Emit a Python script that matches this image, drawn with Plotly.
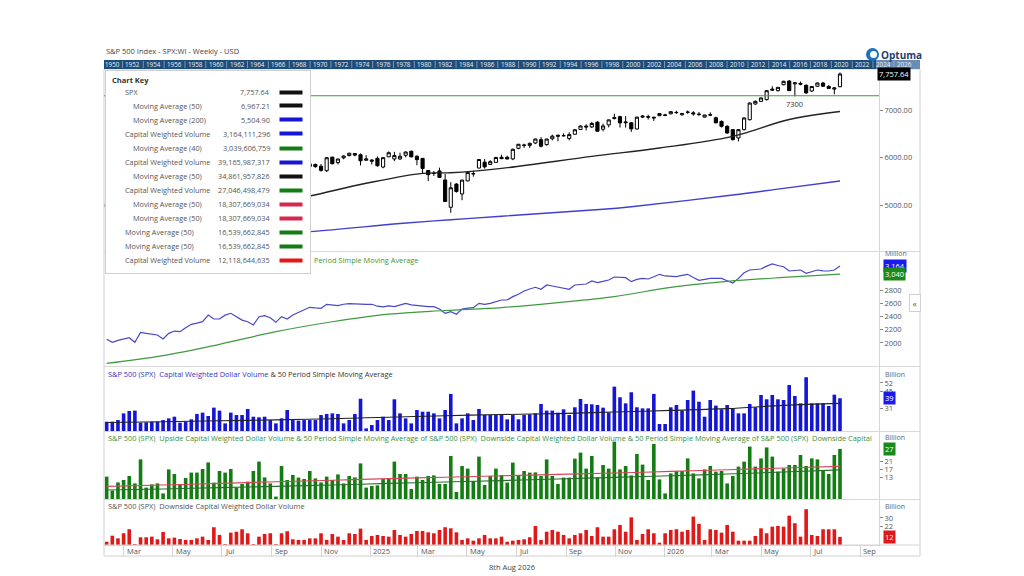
"""
plot.py

S&P 500 weekly chart with capital weighted volume panels (Optuma style)
"""
import pandas as pd
import plotly.graph_objects as go
from plotly.subplots import make_subplots

# ---------------- data ----------------
week_end = pd.date_range("2024-02-09", "2026-08-07", freq="W-FRI")

spx_open = [
    4958, 5026, 4995, 5093, 5131, 5111, 5123, 5219, 5257, 5211,
    5150, 4988, 5116, 5142, 5221, 5305, 5316, 5283, 5341, 5432,
    5459, 5471, 5572, 5615, 5565, 5476, 5151, 5350, 5556, 5630,
    5624, 5442, 5615, 5703, 5737, 5737, 5810, 5855, 5817, 5723,
    6008, 5893, 5992, 6040, 6083, 6058, 5942, 5920, 5982, 5800,
    6015, 5969, 5970, 6046, 6131, 6027, 5982, 5725, 5663, 5718,
    5527, 4953, 5441, 5232, 5508, 5655, 5778, 5902, 5854, 5897,
    6004, 6005, 5970, 6193, 6255, 6255, 6305, 6375, 6271, 6395,
    6445, 6457, 6401, 6489, 6590, 6661, 6643, 6744, 6595, 6686,
    6820, 6860, 6750, 6730, 6600, 6850, 6860, 6830, 6880, 6895,
    6920, 6950, 6900, 6950, 6940, 6915, 6850, 6900, 6835, 6760,
    6656, 6586, 6411, 6586, 6796, 7126, 7182, 7218, 7440, 7407,
    7533, 7610, 7550, 7560, 7520, 7400, 7500, 7568, 7498, 7440,
    7490,
]
spx_high = [
    5030, 5048, 5111, 5140, 5189, 5179, 5261, 5265, 5264, 5263,
    5168, 5114, 5146, 5239, 5325, 5341, 5320, 5376, 5447, 5505,
    5524, 5570, 5655, 5670, 5585, 5566, 5358, 5563, 5642, 5651,
    5625, 5636, 5733, 5767, 5765, 5822, 5878, 5870, 5863, 6012,
    6017, 5972, 6044, 6099, 6085, 6085, 6050, 5966, 6022, 6010,
    6128, 6120, 6101, 6128, 6147, 6043, 5986, 5733, 5715, 5786,
    5655, 5481, 5459, 5528, 5700, 5720, 5958, 5968, 5944, 6016,
    6059, 6039, 6187, 6284, 6290, 6316, 6395, 6428, 6395, 6481,
    6478, 6509, 6532, 6600, 6671, 6699, 6750, 6764, 6715, 6800,
    6920, 6880, 6870, 6745, 6860, 6895, 6900, 6860, 6935, 6920,
    6975, 6985, 6940, 6990, 6975, 6960, 6900, 6950, 6860, 6780,
    6680, 6600, 6600, 6850, 7160, 7200, 7265, 7420, 7500, 7480,
    7615, 7630, 7590, 7600, 7540, 7505, 7580, 7590, 7520, 7480,
    7790,
]
spx_low = [
    4940, 4920, 4946, 5056, 5114, 5104, 5111, 5203, 5146, 5108,
    4953, 4985, 5011, 5127, 5212, 5257, 5191, 5234, 5325, 5421,
    5433, 5445, 5565, 5497, 5390, 5305, 5120, 5330, 5550, 5560,
    5402, 5406, 5585, 5690, 5674, 5696, 5805, 5784, 5702, 5696,
    5853, 5854, 5963, 6024, 6024, 5833, 5932, 5853, 5809, 5773,
    6008, 5923, 5950, 6004, 6008, 5837, 5667, 5505, 5610, 5572,
    5069, 4835, 5262, 5101, 5498, 5597, 5773, 5768, 5843, 5896,
    5964, 5964, 5944, 6174, 6201, 6201, 6282, 6212, 6250, 6360,
    6343, 6445, 6360, 6485, 6580, 6570, 6620, 6550, 6550, 6634,
    6800, 6631, 6630, 6540, 6590, 6830, 6800, 6770, 6870, 6870,
    6910, 6920, 6880, 6920, 6880, 6870, 6840, 6870, 6720, 6630,
    6500, 6360, 6340, 6570, 6780, 7110, 7170, 7200, 7400, 7390,
    7520, 7400, 7290, 7520, 7340, 7380, 7490, 7490, 7440, 7330,
    7480,
]
spx_close = [
    5027, 5005, 5089, 5137, 5124, 5117, 5234, 5254, 5204, 5123,
    4967, 5100, 5128, 5223, 5303, 5305, 5278, 5347, 5432, 5465,
    5460, 5567, 5615, 5505, 5459, 5346, 5344, 5554, 5634, 5648,
    5408, 5626, 5703, 5738, 5751, 5815, 5865, 5808, 5729, 5995,
    5870, 5969, 6032, 6090, 6051, 5931, 5970, 5942, 5827, 5997,
    6101, 6041, 6026, 6115, 6013, 5955, 5770, 5639, 5667, 5581,
    5074, 5363, 5283, 5525, 5687, 5660, 5958, 5803, 5912, 6000,
    5977, 5968, 6173, 6279, 6260, 6297, 6389, 6238, 6389, 6450,
    6467, 6460, 6482, 6584, 6664, 6644, 6716, 6553, 6664, 6792,
    6840, 6729, 6734, 6603, 6849, 6870, 6850, 6845, 6925, 6890,
    6965, 6945, 6925, 6955, 6920, 6905, 6895, 6895, 6730, 6656,
    6516, 6375, 6586, 6832, 7147, 7182, 7253, 7407, 7420, 7477,
    7604, 7407, 7570, 7545, 7360, 7495, 7568, 7500, 7455, 7465,
    7757.64,
]

# moving averages at a few bars (bar index -> value)
spx_ma50_idx = [0, 12, 24, 36, 46, 56, 61, 70, 86, 98, 111, 121, 130]
spx_ma50_val = [4420, 4640, 4900, 5189, 5457, 5667, 5680, 5772, 6025, 6200, 6446, 6800, 6967.21]
spx_ma200_idx = [0, 20, 36, 52, 61, 70, 88, 93, 111, 120, 130]
spx_ma200_val = [4200, 4330, 4440, 4610, 4690, 4765, 4910, 4965, 5210, 5351, 5504.90]
support_level = 7300

# capital weighted volume (millions)
cwv = [
    2056, 2010, 2040, 2065, 2080, 2010, 2160, 2145, 2135, 2120,
    2060, 2145, 2180, 2170, 2230, 2282, 2300, 2322, 2422, 2362,
    2362, 2420, 2448, 2397, 2345, 2320, 2272, 2397, 2412, 2382,
    2312, 2397, 2362, 2422, 2463, 2500, 2539, 2530, 2524, 2584,
    2575, 2564, 2585, 2594, 2590, 2584, 2584, 2584, 2555, 2544,
    2559, 2549, 2575, 2599, 2575, 2564, 2554, 2550, 2549, 2513,
    2448, 2473, 2433, 2513, 2525, 2534, 2599, 2584, 2599, 2620,
    2649, 2649, 2700, 2735, 2785, 2815, 2841, 2810, 2876, 2860,
    2841, 2825, 2810, 2876, 2885, 2891, 2936, 2911, 2930, 2951,
    2996, 2990, 2986, 2926, 2960, 2976, 2966, 3000, 3037, 3012,
    3005, 3002, 3020, 3037, 2990, 2946, 2960, 2976, 2976, 2976,
    2940, 2906, 2976, 3060, 3102, 3110, 3117, 3160, 3193, 3170,
    3152, 3087, 3095, 3102, 3052, 3080, 3102, 3090, 3087, 3102,
    3164,
]
cwv_ma40_idx = [0, 10, 20, 30, 40, 50, 60, 70, 80, 90, 100, 110, 120, 130]
cwv_ma40_val = [1693, 1810, 1980, 2170, 2320, 2435, 2490, 2535, 2610, 2700, 2840, 2930, 2990, 3039.6]

# capital weighted dollar volume (billions)
dollar_vol = [
    19.5, 19.5, 20.9, 26.5, 28.5, 28.8, 18.7, 19.0, 19.5, 19.5,
    20.9, 22.3, 23.7, 18.7, 19.5, 21.5, 26.0, 27.1, 24.3, 31.3,
    28.8, 18.1, 27.1, 25.1, 25.1, 30.2, 23.7, 23.2, 23.7, 20.9,
    18.1, 22.3, 29.3, 20.9, 20.4, 20.9, 20.9, 20.9, 25.1, 26.0,
    26.5, 26.0, 18.1, 20.9, 26.0, 38.8, 13.9, 16.7, 20.9, 23.7,
    20.9, 38.3, 26.5, 22.3, 18.1, 29.3, 27.9, 27.9, 26.5, 22.3,
    29.3, 42.8, 18.1, 22.3, 26.5, 20.9, 30.2, 25.1, 25.1, 25.1,
    25.1, 21.5, 25.1, 21.5, 25.1, 25.7, 26.5, 34.4, 28.8, 28.8,
    27.1, 29.9, 25.1, 31.6, 38.6, 34.4, 34.1, 33.5, 31.3, 27.1,
    48.9, 40.0, 34.9, 44.2, 31.6, 30.7, 30.7, 42.8, 17.6, 17.6,
    31.6, 33.5, 28.8, 37.7, 45.6, 36.3, 23.7, 37.7, 33.0, 29.9,
    33.5, 30.7, 26.5, 26.5, 34.4, 31.6, 41.9, 38.3, 41.9, 38.3,
    37.7, 50.3, 41.1, 34.9, 56.8, 34.9, 34.9, 34.9, 32.7, 42.2,
    39.17,
]
dollar_ma50_idx = [0, 10, 20, 30, 40, 50, 60, 70, 80, 90, 100, 110, 120, 130]
dollar_ma50_val = [18.8, 19.5, 20.3, 21.0, 22.0, 23.3, 24.5, 25.5, 26.3, 27.6, 29.0, 30.5, 33.2, 34.86]

up_vol = [
    13.2, 6.2, 10.3, 11.5, 13.5, 9.8, 21.8, 7.7, 9.3, 9.8,
    4.8, 16.8, 14.5, 9.5, 12.5, 15.2, 15.2, 17.0, 20.3, 10.2,
    16.0, 15.2, 17.0, 7.7, 9.5, 10.7, 16.0, 20.7, 12.8, 9.8,
    3.2, 18.5, 11.5, 14.0, 12.7, 12.0, 16.0, 12.3, 10.3, 13.2,
    11.5, 14.3, 9.8, 13.5, 12.8, 19.8, 7.7, 8.5, 8.8, 12.0,
    12.3, 20.7, 14.5, 14.5, 7.0, 13.2, 11.5, 13.5, 13.8, 9.5,
    9.5, 23.5, 5.5, 18.5, 17.2, 11.0, 23.2, 9.0, 13.5, 17.2,
    14.0, 10.2, 20.2, 13.5, 16.0, 15.2, 15.3, 13.5, 21.8, 13.5,
    9.5, 12.7, 12.7, 22.2, 25.2, 17.2, 23.5, 12.8, 19.0, 17.2,
    30.7, 16.8, 18.5, 13.8, 24.5, 19.2, 11.5, 29.5, 11.8, 4.8,
    14.8, 16.0, 16.0, 22.3, 14.8, 12.3, 16.8, 18.5, 15.7, 16.0,
    9.8, 13.5, 18.2, 20.7, 28.2, 18.2, 22.3, 27.8, 23.2, 15.7,
    17.3, 19.0, 19.0, 24.0, 18.5, 22.3, 21.8, 16.5, 14.5, 24.0,
    27.05,
]
up_ma50_idx = [0, 10, 20, 30, 40, 50, 60, 70, 80, 90, 100, 110, 120, 130]
up_ma50_val = [8.3, 9.0, 9.8, 10.6, 11.4, 12.2, 12.9, 13.6, 14.3, 15.0, 15.8, 16.6, 17.5, 18.31]
down_ma50_idx = [0, 10, 20, 30, 40, 50, 60, 70, 80, 90, 100, 110, 120, 130]
down_ma50_val = [6.5, 7.0, 7.7, 8.3, 9.0, 9.8, 10.5, 11.2, 12.0, 12.8, 13.6, 14.5, 15.5, 16.54]

down_vol = [
    7.5, 13.2, 10.7, 15.5, 19.3, 5.3, 11.7, 11.7, 12.3, 9.8,
    16.7, 10.7, 11.4, 10.1, 9.2, 9.2, 10.7, 12.3, 9.2, 21.2,
    13.9, 5.3, 16.1, 17.0, 19.3, 15.5, 5.3, 12.3, 14.8, 15.5,
    5.3, 15.5, 17.4, 9.8, 9.2, 9.2, 10.7, 10.7, 15.5, 9.2,
    14.8, 12.3, 9.2, 15.5, 14.8, 19.9, 9.2, 12.9, 13.9, 12.9,
    12.3, 18.6, 13.9, 12.3, 14.8, 17.7, 17.7, 16.4, 15.5, 18.6,
    21.2, 20.2, 16.4, 9.2, 10.7, 8.5, 10.7, 13.9, 10.7, 10.7,
    12.3, 7.5, 8.5, 9.2, 9.8, 11.7, 22.4, 9.2, 17.0, 18.6,
    17.0, 13.9, 10.7, 13.9, 15.5, 18.6, 12.9, 21.2, 12.3, 12.3,
    19.3, 23.4, 17.0, 30.6, 9.2, 14.8, 19.3, 15.5, 6.6, 15.5,
    18.6, 19.3, 17.0, 18.6, 31.3, 24.4, 9.2, 19.3, 18.6, 16.1,
    23.4, 17.0, 8.5, 8.5, 8.5, 12.9, 20.2, 15.5, 21.8, 22.4,
    21.8, 32.2, 25.0, 12.3, 38.3, 13.9, 12.9, 19.3, 19.3, 19.3,
    12.12,
]

# chart key
key_labels = ["SPX", "Moving Average (50)", "Moving Average (200)", "Capital Weighted Volume",
              "Moving Average (40)", "Capital Weighted Volume", "Moving Average (50)",
              "Capital Weighted Volume", "Moving Average (50)", "Moving Average (50)",
              "Moving Average (50)", "Moving Average (50)", "Capital Weighted Volume"]
key_values = ["7,757.64", "6,967.21", "5,504.90", "3,164,111,296", "3,039,606,759",
              "39,165,987,317", "34,861,957,826", "27,046,498,479", "18,307,669,034",
              "18,307,669,034", "16,539,662,845", "16,539,662,845", "12,118,644,635"]
key_indent = [0, 1, 1, 0, 1, 0, 1, 0, 1, 1, 0, 0, 0]

month_ticks = pd.date_range("2024-03-01", "2026-09-01", freq="2MS")
month_labels = ["Mar", "May", "Jul", "Sep", "Nov", "2025", "Mar", "May", "Jul", "Sep",
                "Nov", "2026", "Mar", "May", "Jul", "Sep"]
strip_years = list(range(1950, 2027, 2))

# ---------------- styles ----------------
BLACK = "#111111"
BLUE = "#1515d6"
GREEN = "#137d13"
CRIMSON = "#d8274f"
RED = "#e01818"
FONT = "Open Sans"
GREY = "#555555"

# page offset of the figure inside the browser window (body margin)
OFF = 8
# plot area in window pixels
L, R, T, B = 104, 879, 69, 545


def px(x):
    return (x - L) / (R - L)


def py(y):
    return (B - y) / (B - T)


def at(idx):
    return [week_end[i] for i in idx]


fig = make_subplots(rows=5, cols=1, shared_xaxes=True, vertical_spacing=0)

# price panel
fig.add_trace(go.Candlestick(
    x=week_end, open=spx_open, high=spx_high, low=spx_low, close=spx_close,
    increasing=dict(line=dict(color="#000000", width=1), fillcolor="#ffffff"),
    decreasing=dict(line=dict(color="#000000", width=1), fillcolor="#000000"),
    whiskerwidth=0, showlegend=False, hoverinfo="skip"), row=1, col=1)
fig.add_trace(go.Scatter(x=at(spx_ma50_idx), y=spx_ma50_val, mode="lines",
                         line=dict(color="#222222", width=1.4, shape="spline"),
                         showlegend=False), row=1, col=1)
fig.add_trace(go.Scatter(x=at(spx_ma200_idx), y=spx_ma200_val, mode="lines",
                         line=dict(color="#3f3fd0", width=1.4, shape="spline"),
                         showlegend=False), row=1, col=1)

# capital weighted volume line
fig.add_trace(go.Scatter(x=week_end, y=cwv, mode="lines",
                         line=dict(color="#4848c8", width=1.2), showlegend=False), row=2, col=1)
fig.add_trace(go.Scatter(x=at(cwv_ma40_idx), y=cwv_ma40_val, mode="lines",
                         line=dict(color="#3f9a3f", width=1.2, shape="spline"),
                         showlegend=False), row=2, col=1)

# dollar volume
fig.add_trace(go.Bar(x=week_end, y=dollar_vol, marker=dict(color=BLUE, line_width=0),
                     showlegend=False), row=3, col=1)
fig.add_trace(go.Scatter(x=at(dollar_ma50_idx), y=dollar_ma50_val, mode="lines",
                         line=dict(color="#222222", width=1.1, shape="spline"),
                         showlegend=False), row=3, col=1)

# upside dollar volume
fig.add_trace(go.Bar(x=week_end, y=up_vol, marker=dict(color=GREEN, line_width=0),
                     showlegend=False), row=4, col=1)
fig.add_trace(go.Scatter(x=at(up_ma50_idx), y=up_ma50_val, mode="lines",
                         line=dict(color="#d9465c", width=1.1, shape="spline"),
                         showlegend=False), row=4, col=1)
fig.add_trace(go.Scatter(x=at(down_ma50_idx), y=down_ma50_val, mode="lines",
                         line=dict(color="#2a6e2a", width=1.1, shape="spline"),
                         showlegend=False), row=4, col=1)

# downside dollar volume
fig.add_trace(go.Bar(x=week_end, y=down_vol, marker=dict(color=RED, line_width=0),
                     showlegend=False), row=5, col=1)

x_start = week_end[0] - pd.Timedelta(hours=80)
x_end = week_end[-1] + pd.Timedelta(hours=1162)

axis_common = dict(showgrid=False, zeroline=False, side="right", ticks="outside",
                   ticklen=3, tickcolor="#888888", showline=True, linecolor="#d4d4d4",
                   tickfont=dict(family=FONT, size=7.5, color=GREY))

fig.update_layout(
    width=1024 - OFF, height=576 - OFF,
    margin=dict(l=L - OFF, r=1024 - R, t=T - OFF, b=576 - B),
    paper_bgcolor="white", plot_bgcolor="white",
    font=dict(family=FONT, size=7.5, color=GREY),
    bargap=0.36, boxgap=0.2, hovermode=False,
    yaxis=dict(domain=[py(251), 1], range=[4032, 7863], tickvals=[5000, 6000, 7000],
               tickformat=".2f", **axis_common),
    yaxis2=dict(domain=[py(366), py(252)], range=[1652, 3374],
                tickvals=[2000, 2200, 2400, 2600, 2800], tickformat="d", **axis_common),
    yaxis3=dict(domain=[py(431), py(367)], range=[11.7, 65.4],
                tickvals=[31, 45, 52], **axis_common),
    yaxis4=dict(domain=[py(499), py(432)], range=[2, 35.5],
                tickvals=[13, 17, 21], **axis_common),
    yaxis5=dict(domain=[0, py(500)], range=[4.4, 47],
                tickvals=[22, 30], **axis_common),
)
for n in range(1, 6):
    fig.layout["xaxis" if n == 1 else f"xaxis{n}"].update(
        range=[x_start, x_end], showgrid=False, zeroline=False, showticklabels=False,
        rangeslider=dict(visible=False), type="date")
fig.layout.xaxis5.update(ticks="outside", ticklen=11, tickcolor="#d4d4d4",
                         tickvals=list(month_ticks), showline=True, linecolor="#d4d4d4")

shapes = []
# frame and panel separators
shapes.append(dict(type="rect", xref="paper", yref="paper", x0=px(104), x1=px(920),
                   y0=py(556), y1=py(69), line=dict(color="#d0d0d0", width=1)))
for yy in [251.5, 366.5, 431.5, 499.5]:
    shapes.append(dict(type="line", xref="paper", yref="paper", x0=px(104), x1=px(920),
                       y0=py(yy), y1=py(yy), line=dict(color="#d8d8d8", width=1)))
shapes.append(dict(type="line", xref="paper", yref="paper", x0=px(104), x1=px(920),
                   y0=0, y1=0, line=dict(color="#d4d4d4", width=1)))
# support line
shapes.append(dict(type="line", xref="paper", yref="y", x0=0, x1=1,
                   y0=support_level, y1=support_level, line=dict(color="#3a9a3a", width=1)))
# year strip
shapes.append(dict(type="rect", xref="paper", yref="paper", x0=px(104), x1=px(920),
                   y0=py(69), y1=py(60), fillcolor="#1f4d7a", line_width=0))
shapes.append(dict(type="rect", xref="paper", yref="paper", x0=px(876), x1=px(920),
                   y0=py(69), y1=py(60), fillcolor="#6c8db3", line_width=0))
for k in range(1, len(strip_years)):
    xs = 112 + (k - 0.5) * 20.85
    shapes.append(dict(type="line", xref="paper", yref="paper", x0=px(xs), x1=px(xs),
                       y0=py(68), y1=py(61), line=dict(color="#9fb6d0", width=0.7)))
# logo icon
shapes.append(dict(type="circle", xref="paper", yref="paper", x0=px(866), x1=px(879),
                   y0=py(61), y1=py(48), fillcolor="#1f6fb8", line_width=0))
shapes.append(dict(type="circle", xref="paper", yref="paper", x0=px(870), x1=px(877),
                   y0=py(58), y1=py(51), fillcolor="white", line_width=0))
fig.update_layout(shapes=shapes)

ann = []


def text(x, y, s, size=7.5, color=GREY, anchor="left", **kw):
    ann.append(dict(x=px(x), y=py(y), xref="paper", yref="paper", text=s, showarrow=False,
                    xanchor=anchor, yanchor="middle",
                    font=dict(family=FONT, size=size, color=color), **kw))


text(104, 51, "S&amp;P 500 Index - SPX:WI - Weekly - USD", size=7.5, color="#444444")
text(879, 54.5, "<b>Optuma</b>", size=10, color="#1d3f72")
text(512, 567, "8th Aug 2026", size=7.5, color="#444444", anchor="center")
for k, yr in enumerate(strip_years):
    text(112 + k * 20.85, 64.8, str(yr), size=6.3, color="#e8eef6", anchor="center")

# panel titles
text(312, 260, "Period Simple Moving Average", size=7.4, color="#3c963c")
text(106, 373.5, "<span style='color:#3434c4'>S&amp;P 500 (SPX)  Capital Weighted Dollar Volume</span>"
     "<span style='color:#333333'> &amp; 50 Period Simple Moving Average</span>", size=7.4)
text(106, 437.5, "S&amp;P 500 (SPX)  Upside Capital Weighted Dollar Volume &amp; 50 Period Simple "
     "Moving Average of S&amp;P 500 (SPX)  Downside Capital Weighted Dollar Volume &amp; 50 Period "
     "Simple Moving Average of S&amp;P 500 (SPX)  Downside Capital", size=7.4, color="#3c8f3c")
text(106, 506, "S&amp;P 500 (SPX)  Downside Capital Weighted Dollar Volume", size=7.4, color="#555555")

# unit labels
for yy, s in [(254, "Million"), (374, "Billion"), (437, "Billion"), (506, "Billion")]:
    text(883, yy, s, size=7, color="#666666")

# month labels on the time axis
for d, s in zip(month_ticks, month_labels):
    ann.append(dict(x=d, y=py(551), xref="x5", yref="paper", text=s, showarrow=False,
                    xanchor="left", xshift=1, yanchor="middle",
                    font=dict(family=FONT, size=7.5, color=GREY)))

# support label
ann.append(dict(x=week_end[122], y=support_level, xref="x", yref="y", text="7300",
                showarrow=False, yshift=-8, font=dict(family=FONT, size=7.5, color="#333333")))

# last value tags
for val, label, yref, bg, xx in [
    (spx_close[-1], "7,757.64", "y", "#000000", 877),
    (cwv[-1], "3,164", "y2", "#1a1aee", 883),
    (cwv_ma40_val[-1], "3,040", "y2", "#1a881a", 883),
    (dollar_vol[-1], "39", "y3", "#1a1aee", 883),
    (up_vol[-1], "27", "y4", "#1a881a", 883),
    (down_vol[-1], "12", "y5", "#e01818", 883),
]:
    ann.append(dict(x=px(xx), y=val, xref="paper", yref=yref, text=label, showarrow=False,
                    xanchor="left", yanchor="middle", bgcolor=bg, borderpad=1,
                    font=dict(family=FONT, size=7.5, color="white")))

# collapse tab
text(914.5, 303, "«", size=9, color="#666666", anchor="center",
     bordercolor="#d0d0d0", borderwidth=1, bgcolor="white", width=8, height=14)

# chart key box (drawn over the plot)
text(105, 71 + 101, " ", size=7, anchor="left", bgcolor="white", bordercolor="#d0d0d0",
     borderwidth=1, width=202, height=200)
text(110, 79.5, "<b>Chart Key</b>", size=7.5, color="#333333")
key_colors = [BLACK, BLACK, BLUE, BLUE, GREEN, BLUE, BLACK, GREEN, CRIMSON, CRIMSON, GREEN, GREEN, RED]
for k, lab in enumerate(key_labels):
    yy = 92 + 14 * k
    text(122.5 + 8 * key_indent[k], yy, lab, size=7.3, color="#555555")
    text(272, yy, key_values[k], size=7.3, color="#555555", anchor="right")
    ann.append(dict(x=px(279), y=py(yy), xref="paper", yref="paper", text=" ", showarrow=False,
                    xanchor="left", yanchor="middle", bgcolor=key_colors[k], borderpad=0,
                    width=22, height=3, font=dict(size=1)))

fig.update_layout(annotations=ann)

fig.write_html("out.html")
